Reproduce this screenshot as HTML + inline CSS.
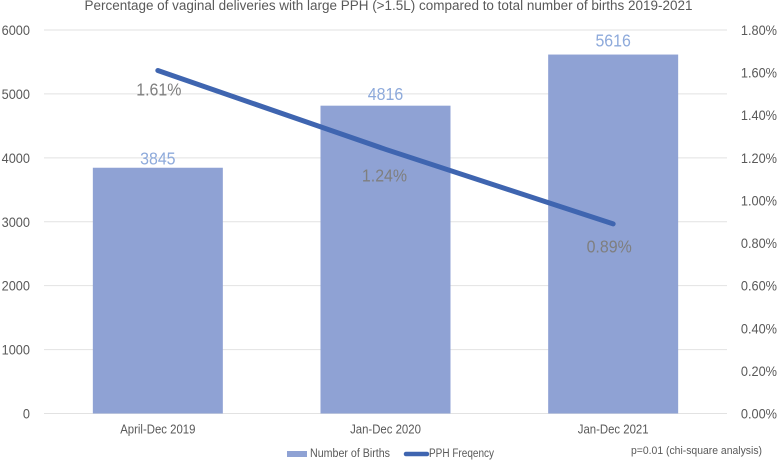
<!DOCTYPE html>
<html>
<head>
<meta charset="utf-8">
<style>
html,body{margin:0;padding:0;background:#fff;}
svg{display:block;filter:blur(0.3px);}
text{font-family:"Liberation Sans",sans-serif;}
</style>
</head>
<body>
<svg id="chart" width="777" height="460" viewBox="0 0 777 460" xmlns="http://www.w3.org/2000/svg">
<rect width="777" height="460" fill="#ffffff"/>
<text x="388.5" y="10" text-anchor="middle" font-size="13.5" fill="#595959" textLength="608" lengthAdjust="spacingAndGlyphs">Percentage of vaginal deliveries with large PPH (&gt;1.5L) compared to total number of births 2019-2021</text>
<g id="grid"></g>
<g id="bars"></g>
<g id="left-ticks"></g>
<g id="right-ticks"></g>
<g id="cat-labels"></g>
<g id="line-layer"></g>
<g id="value-labels"></g>
<rect x="287" y="451" width="20" height="6" fill="#8fa2d4"/>
<text x="310" y="457" font-size="11.5" fill="#595959" textLength="80" lengthAdjust="spacingAndGlyphs">Number of Births</text>
<line x1="406" y1="454" x2="427" y2="454" stroke="#3f65b0" stroke-width="4.5" stroke-linecap="round"/>
<text x="429" y="457" font-size="11.5" fill="#595959" textLength="65" lengthAdjust="spacingAndGlyphs">PPH Freqency</text>
<text x="631" y="454" font-size="11" fill="#595959" textLength="131" lengthAdjust="spacingAndGlyphs">p=0.01 (chi-square analysis)</text>
</svg>
<script>
const categories = ['April-Dec 2019', 'Jan-Dec 2020', 'Jan-Dec 2021'];
const births = [3845, 4816, 5616];
const pphFrequency = [1.61, 1.24, 0.89];
const leftTicks = [0, 1000, 2000, 3000, 4000, 5000, 6000];
const rightTicks = [0, 0.2, 0.4, 0.6, 0.8, 1.0, 1.2, 1.4, 1.6, 1.8];

const NS = 'http://www.w3.org/2000/svg';
const plotLeft = 44, plotRight = 727, plotTop = 30, plotBottom = 413.5;
const leftMax = 6000, rightMax = 1.8;
const barWidth = 130;
const condense = 0.91;
const yLeft = v => plotBottom - (v / leftMax) * (plotBottom - plotTop);
const yRight = v => plotBottom - (v / rightMax) * (plotBottom - plotTop);
const xCat = i => plotLeft + (i + 0.5) * (plotRight - plotLeft) / categories.length;

function mk(parentId, tag, attrs, txt) {
  const el = document.createElementNS(NS, tag);
  for (const k in attrs) el.setAttribute(k, attrs[k]);
  if (txt !== undefined) el.textContent = txt;
  document.getElementById(parentId).appendChild(el);
  if (tag === 'text') {
    el.setAttribute('textLength', el.getComputedTextLength() * condense);
    el.setAttribute('lengthAdjust', 'spacingAndGlyphs');
  }
  return el;
}

/* label placement relative to the mark, by category index */
function birthsLabelGap(i) { return 3 + 2.5 * i; }
function pphLabelDx(i) { return i === 0 ? 1 : (i === 1 ? -1 : -4); }
function pphLabelDy(i) { return i === 0 ? 25 : (i === 1 ? 32 : 28.5); }

leftTicks.forEach(t => {
  const g = mk('grid', 'line', {x1: plotLeft, x2: plotRight, y1: yLeft(t), y2: yLeft(t), stroke: '#e2e2e2', 'stroke-width': 1});
  
  
  const l = mk('left-ticks', 'text', {x: 30, y: yLeft(t) + 5, 'text-anchor': 'end', 'font-size': 14, fill: '#595959'}, String(t));
  
  
});

rightTicks.forEach(t => {
  const l = mk('right-ticks', 'text', {x: 777, y: yRight(t) + 5, 'text-anchor': 'end', 'font-size': 14, fill: '#595959'}, t.toFixed(2) + '%');
  
  
});

categories.forEach((c, i) => {
  const l = mk('cat-labels', 'text', {x: xCat(i), y: 433.5, 'text-anchor': 'middle', 'font-size': 12.5, fill: '#595959'}, c);
  
  
});

births.forEach((v, i) => {
  const b = mk('bars', 'rect', {x: xCat(i) - barWidth / 2, y: yLeft(v), width: barWidth, height: plotBottom - yLeft(v), fill: '#8fa2d4'});
  
  
  const l = mk('value-labels', 'text', {x: xCat(i), y: yLeft(v) - birthsLabelGap(i), 'text-anchor': 'middle', 'font-size': 17.5, fill: '#8eaadb'}, String(v));
  
  
});

const pts = pphFrequency.map((v, i) => xCat(i) + ',' + yRight(v)).join(' ');
const line = mk('line-layer', 'polyline', {points: pts, fill: 'none', stroke: '#3f65b0', 'stroke-width': 5, 'stroke-linecap': 'round', 'stroke-linejoin': 'round'});



pphFrequency.forEach((v, i) => {
  const l = mk('value-labels', 'text', {x: xCat(i) + pphLabelDx(i), y: yRight(v) + pphLabelDy(i), 'text-anchor': 'middle', 'font-size': 17.5, fill: '#7f7f7f'}, v.toFixed(2) + '%');
  
  
});
</script>
</body>
</html>
